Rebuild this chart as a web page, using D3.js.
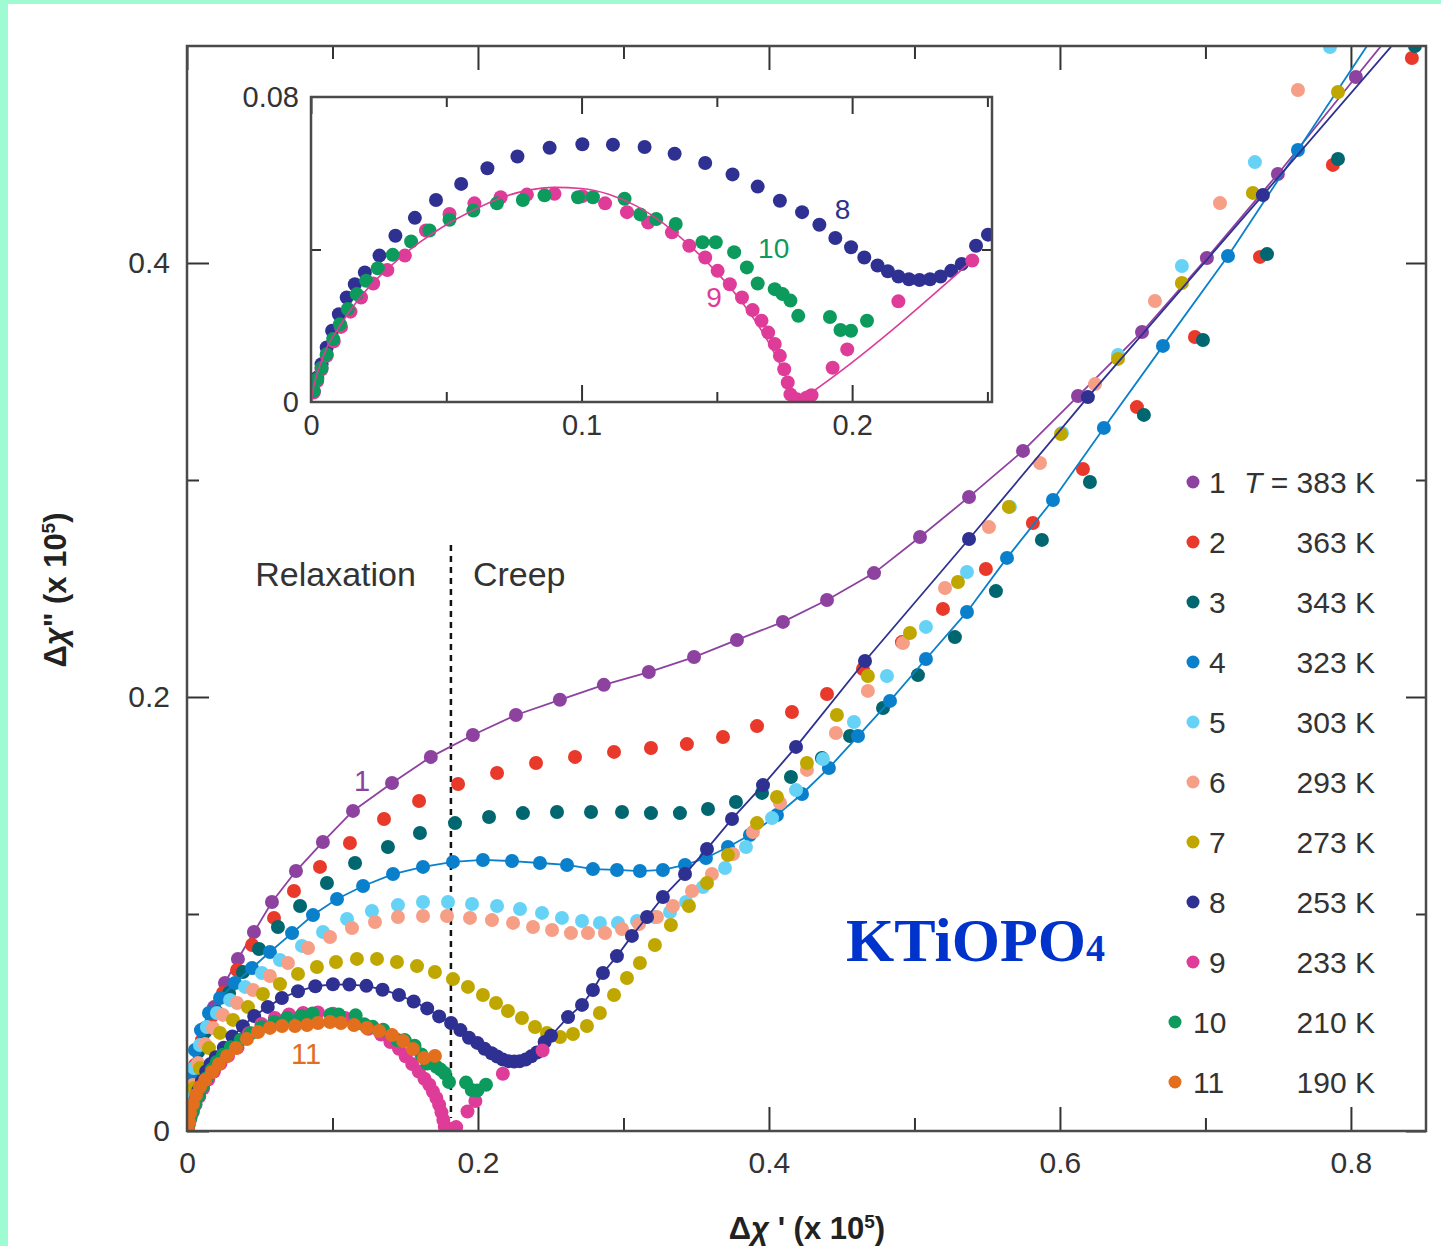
<!DOCTYPE html>
<html><head><meta charset="utf-8">
<script src="https://cdn.jsdelivr.net/npm/d3@7"></script>
<style>
html,body{margin:0;padding:0;background:#9ffbd2;}
svg{display:block;}
text{font-family:"Liberation Sans",Arial,sans-serif;}
</style></head><body>
<svg id="chart" width="1441" height="1246"></svg>
<script>
// ---------------- DATA ----------------
const s1 = [[0.0007,0.0014],[0.0014,0.0088],[0.0027,0.0175],[0.0048,0.0272],[0.0076,0.0373],[0.0124,0.0475],[0.0186,0.0571],[0.0261,0.0682],[0.0350,0.0793],[0.0460,0.0917],[0.0584,0.1055],[0.0749,0.1198],[0.0934,0.1332],[0.1141,0.1475],[0.1409,0.1604],[0.1676,0.1724],[0.1965,0.1825],[0.2261,0.1917],[0.2563,0.1987],[0.2865,0.2056],[0.3174,0.2115],[0.3485,0.2184],[0.3780,0.2263],[0.4096,0.2346],[0.4399,0.2447],[0.4722,0.2571],[0.5038,0.2737],[0.5375,0.2922],[0.5746,0.3134],[0.6124,0.3387],[0.6564,0.3682],[0.7010,0.4023],[0.7498,0.4410],[0.8034,0.4857],[0.857,0.530]];
const s2 = [[0.0007,0.0074],[0.0021,0.0180],[0.0055,0.0304],[0.0103,0.0419],[0.0172,0.0530],[0.0247,0.0636],[0.0344,0.0742],[0.0447,0.0857],[0.0598,0.0982],[0.0735,0.1106],[0.0914,0.1217],[0.1120,0.1327],[0.1354,0.1438],[0.1595,0.1521],[0.1863,0.1599],[0.2131,0.1650],[0.2399,0.1696],[0.2667,0.1724],[0.2935,0.1747],[0.3189,0.1765],[0.3436,0.1783],[0.3684,0.1816],[0.3918,0.1866],[0.4158,0.1931],[0.4399,0.2014],[0.4646,0.2129],[0.4914,0.2253],[0.5196,0.2406],[0.5491,0.2590],[0.5814,0.2802],[0.6158,0.3051],[0.6529,0.3336],[0.6928,0.3659],[0.7375,0.4028],[0.7876,0.4452],[0.8419,0.4945]];
const s3 = [[0.0007,0.0060],[0.0021,0.0152],[0.0041,0.0258],[0.0076,0.0364],[0.0124,0.0456],[0.0206,0.0548],[0.0289,0.0636],[0.0385,0.0733],[0.0495,0.0839],[0.0625,0.0940],[0.0777,0.1037],[0.0962,0.1143],[0.1155,0.1235],[0.1381,0.1309],[0.1601,0.1373],[0.1842,0.1419],[0.2076,0.1447],[0.2309,0.1465],[0.2543,0.1470],[0.2777,0.1470],[0.2990,0.1470],[0.3189,0.1465],[0.3388,0.1465],[0.3581,0.1484],[0.3773,0.1516],[0.3952,0.1558],[0.4151,0.1631],[0.4364,0.1719],[0.4557,0.1820],[0.4784,0.1949],[0.5024,0.2101],[0.5278,0.2276],[0.5560,0.2488],[0.5876,0.2724],[0.6206,0.2991],[0.6577,0.3300],[0.6983,0.3645],[0.7423,0.4041],[0.7911,0.4479],[0.8440,0.5000]];
const s4 = [[0.0007,0.0041],[0.0014,0.0143],[0.0027,0.0258],[0.0055,0.0373],[0.0096,0.0465],[0.0151,0.0544],[0.0227,0.0613],[0.0330,0.0682],[0.0447,0.0751],[0.0570,0.0825],[0.0722,0.0912],[0.0866,0.0995],[0.1031,0.1069],[0.1210,0.1129],[0.1416,0.1184],[0.1622,0.1217],[0.1828,0.1240],[0.2034,0.1249],[0.2234,0.1244],[0.2426,0.1235],[0.2612,0.1226],[0.2790,0.1207],[0.2955,0.1203],[0.3113,0.1198],[0.3271,0.1203],[0.3423,0.1226],[0.3567,0.1258],[0.3718,0.1309],[0.3869,0.1364],[0.4055,0.1456],[0.4227,0.1553],[0.4412,0.1673],[0.4612,0.1820],[0.4832,0.1982],[0.5079,0.2175],[0.5361,0.2392],[0.5636,0.2641],[0.5952,0.2908],[0.6302,0.3240],[0.6708,0.3618],[0.7155,0.4032],[0.7636,0.4521],[0.8612,0.5507]];
const s5 = [[0.0007,0.0051],[0.0021,0.0166],[0.0048,0.0290],[0.0089,0.0396],[0.0137,0.0479],[0.0206,0.0544],[0.0296,0.0604],[0.0399,0.0664],[0.0515,0.0728],[0.0639,0.0788],[0.0790,0.0853],[0.0935,0.0917],[0.1100,0.0977],[0.1271,0.1014],[0.1450,0.1041],[0.1622,0.1055],[0.1794,0.1055],[0.1959,0.1046],[0.2131,0.1037],[0.2289,0.1023],[0.2440,0.1005],[0.2577,0.0982],[0.2715,0.0968],[0.2838,0.0959],[0.2962,0.0959],[0.3093,0.0968],[0.3216,0.0986],[0.3320,0.1009],[0.3430,0.1055],[0.3546,0.1124],[0.3698,0.1212],[0.3842,0.1309],[0.4021,0.1442],[0.4186,0.1571],[0.4371,0.1714],[0.4584,0.1885],[0.4811,0.2097],[0.5079,0.2323],[0.5361,0.2576],[0.5656,0.2876],[0.6014,0.3217],[0.6399,0.3576],[0.6838,0.3986],[0.7340,0.4465],[0.7856,0.4995]];
const s6 = [[0.0007,0.0037],[0.0021,0.0120],[0.0041,0.0212],[0.0076,0.0313],[0.0124,0.0401],[0.0179,0.0475],[0.0247,0.0535],[0.0344,0.0590],[0.0454,0.0650],[0.0570,0.0714],[0.0694,0.0774],[0.0832,0.0843],[0.0983,0.0894],[0.1134,0.0935],[0.1292,0.0963],[0.1450,0.0986],[0.1622,0.0991],[0.1787,0.0991],[0.1945,0.0982],[0.2096,0.0972],[0.2241,0.0959],[0.2378,0.0940],[0.2509,0.0926],[0.2639,0.0912],[0.2756,0.0912],[0.2873,0.0912],[0.2990,0.0931],[0.3107,0.0954],[0.3230,0.0986],[0.3340,0.1037],[0.3471,0.1106],[0.3608,0.1184],[0.3753,0.1276],[0.3890,0.1378],[0.4076,0.1512],[0.4261,0.1664],[0.4460,0.1834],[0.4680,0.2028],[0.4921,0.2249],[0.5210,0.2502],[0.5512,0.2783],[0.5863,0.3078],[0.6241,0.3442],[0.6653,0.3825],[0.7100,0.4276],[0.7636,0.4797]];
const s7 = [[0.0007,0.0032],[0.0021,0.0106],[0.0048,0.0198],[0.0089,0.0290],[0.0151,0.0382],[0.0227,0.0452],[0.0316,0.0512],[0.0419,0.0571],[0.0522,0.0631],[0.0639,0.0677],[0.0763,0.0724],[0.0893,0.0756],[0.1024,0.0779],[0.1168,0.0793],[0.1306,0.0793],[0.1443,0.0779],[0.1581,0.0760],[0.1704,0.0733],[0.1828,0.0700],[0.1931,0.0664],[0.2034,0.0627],[0.2124,0.0590],[0.2206,0.0553],[0.2302,0.0521],[0.2392,0.0479],[0.2474,0.0452],[0.2564,0.0433],[0.2653,0.0447],[0.2749,0.0484],[0.2838,0.0544],[0.2935,0.0627],[0.3024,0.0705],[0.3113,0.0774],[0.3216,0.0857],[0.3326,0.0949],[0.3450,0.1037],[0.3574,0.1143],[0.3718,0.1272],[0.3918,0.1419],[0.4055,0.1539],[0.4261,0.1696],[0.4467,0.1917],[0.4680,0.2097],[0.4969,0.2295],[0.5299,0.2530],[0.5649,0.2876],[0.6007,0.3212],[0.6399,0.3558],[0.6838,0.3908],[0.7326,0.4323],[0.7911,0.4788]];
const s8 = [[0.0010,0.0029],[0.0023,0.0064],[0.0039,0.0099],[0.0058,0.0143],[0.0078,0.0187],[0.0103,0.0230],[0.0132,0.0274],[0.0162,0.0309],[0.0199,0.0340],[0.0253,0.0384],[0.0312,0.0436],[0.0384,0.0483],[0.0462,0.0530],[0.0555,0.0572],[0.0652,0.0613],[0.0763,0.0644],[0.0882,0.0667],[0.1003,0.0676],[0.1116,0.0675],[0.1233,0.0669],[0.1344,0.0651],[0.1457,0.0627],[0.1558,0.0597],[0.1651,0.0565],[0.1733,0.0528],[0.1815,0.0498],[0.1879,0.0465],[0.1938,0.0430],[0.1996,0.0406],[0.2045,0.0379],[0.2094,0.0358],[0.2132,0.0343],[0.2171,0.0329],[0.2210,0.0322],[0.2249,0.0320],[0.2288,0.0322],[0.2327,0.0329],[0.2366,0.0344],[0.2405,0.0362],[0.2458,0.0410],[0.2502,0.0439],[0.2619,0.0525],[0.2715,0.0581],[0.2790,0.0650],[0.2859,0.0728],[0.2955,0.0806],[0.3058,0.0899],[0.3162,0.0986],[0.3271,0.1078],[0.3423,0.1184],[0.3574,0.1300],[0.3746,0.1438],[0.3959,0.1594],[0.4186,0.1770],[0.4660,0.2166],[0.5375,0.2728],[0.6192,0.3382],[0.7395,0.4313],[0.8612,0.5258]];
const s9 = [[0.0010,0.0025],[0.0023,0.0055],[0.0039,0.0086],[0.0058,0.0121],[0.0084,0.0159],[0.0111,0.0197],[0.0146,0.0237],[0.0185,0.0274],[0.0230,0.0311],[0.0282,0.0346],[0.0347,0.0384],[0.0425,0.0450],[0.0512,0.0493],[0.0604,0.0521],[0.0701,0.0537],[0.0798,0.0544],[0.0900,0.0546],[0.1003,0.0540],[0.1087,0.0521],[0.1168,0.0498],[0.1246,0.0471],[0.1334,0.0445],[0.1398,0.0410],[0.1457,0.0379],[0.1503,0.0344],[0.1548,0.0309],[0.1593,0.0274],[0.1632,0.0241],[0.1665,0.0213],[0.1690,0.0182],[0.1714,0.0152],[0.1733,0.0121],[0.1749,0.0086],[0.1762,0.0051],[0.1772,0.0020],[0.1796,0.0007],[0.1831,0.0011],[0.1850,0.0018],[0.1928,0.0090],[0.1982,0.0138],[0.2171,0.0264],[0.2444,0.0371]];
const s10 = [[0.0010,0.0029],[0.0023,0.0060],[0.0039,0.0090],[0.0058,0.0125],[0.0082,0.0165],[0.0107,0.0204],[0.0136,0.0244],[0.0169,0.0283],[0.0204,0.0318],[0.0247,0.0351],[0.0302,0.0386],[0.0370,0.0421],[0.0438,0.0450],[0.0512,0.0478],[0.0600,0.0502],[0.0687,0.0521],[0.0783,0.0530],[0.0863,0.0542],[0.0987,0.0537],[0.1042,0.0537],[0.1159,0.0533],[0.1217,0.0492],[0.1276,0.0480],[0.1348,0.0467],[0.1447,0.0419],[0.1496,0.0419],[0.1564,0.0393],[0.1611,0.0353],[0.1651,0.0311],[0.1714,0.0296],[0.1743,0.0283],[0.1772,0.0266],[0.1801,0.0226],[0.1918,0.0223],[0.1957,0.0189],[0.1996,0.0187],[0.2055,0.0213]];
const s11 = [[0.0007,0.0005],[0.0014,0.0041],[0.0021,0.0083],[0.0041,0.0124],[0.0062,0.0166],[0.0089,0.0203],[0.0124,0.0235],[0.0172,0.0272],[0.0220,0.0309],[0.0275,0.0346],[0.0337,0.0382],[0.0412,0.0424],[0.0488,0.0456],[0.0570,0.0475],[0.0653,0.0484],[0.0742,0.0484],[0.0825,0.0488],[0.0900,0.0498],[0.0983,0.0502],[0.1058,0.0498],[0.1148,0.0488],[0.1237,0.0475],[0.1320,0.0461],[0.1409,0.0442],[0.1485,0.0415],[0.1553,0.0378],[0.1629,0.0336],[0.1704,0.0346]];
// fitted curve for curve 9 in the inset
const fit9 = [[0,0],[0.001,0.004],[0.003,0.009],[0.006,0.0145],[0.01,0.0192],[0.015,0.0245],[0.02,0.029],[0.03,0.036],[0.04,0.0418],[0.05,0.0465],[0.06,0.0503],[0.07,0.0535],[0.08,0.0555],[0.09,0.0563],[0.10,0.0560],[0.11,0.0545],[0.12,0.0515],[0.13,0.047],[0.14,0.041],[0.15,0.034],[0.16,0.0255],[0.168,0.017],[0.174,0.009],[0.178,0.003],[0.1815,0.0008],[0.185,0.0025],[0.2445,0.0372]];

const seriesData = [s1,s2,s3,s4,s5,s6,s7,s8,s9,s10,s11];
const seriesNames = ["1","2","3","4","5","6","7","8","9","10","11"];
const temperatures = ["383 K","363 K","343 K","323 K","303 K","293 K","273 K","253 K","233 K","210 K","190 K"];
const linedSeries = [0,3,7];           // curves drawn with a connecting line
const insetSeries = [7,8,9];           // curves 8, 9, 10 shown in the inset
const xTicksMain = [0,0.2,0.4,0.6,0.8], xMinorMain = [0.1,0.3,0.5,0.7];
const yTicksMain = [0,0.2,0.4], yMinorMain = [0.1,0.3];
const xTicksInset = [0,0.1,0.2], xMinorInset = [0.05,0.15,0.25];
const yTicksInset = [0,0.08], yMinorInset = [0.04];
const boundary = 0.1814;               // relaxation / creep divider

// ---------------- STYLE ----------------
const colors = ["#8e42a0","#e8392b","#00666f","#0a80cc","#66d3f6","#f69f86","#bfa700","#2e3192","#de3c98","#0c9b5c","#e36f1e"];
const R = 7;

const svg = d3.select("#chart");
svg.append("rect").attr("x",8).attr("y",4).attr("width",1433).attr("height",1242).attr("fill","#fff");

const x = d3.scaleLinear().domain([0,0.8516]).range([187,1426]);
const y = d3.scaleLinear().domain([0,0.5]).range([1131,46]);

const defs = svg.append("defs");
defs.append("clipPath").attr("id","clipMain").append("rect")
  .attr("x",187).attr("y",46).attr("width",1426-187).attr("height",1131-46);

const tickCol = "#333", frameCol = "#4a4a4a";
function styleAxis(g, fs){
  g.select(".domain").remove();
  g.selectAll(".tick line").attr("stroke",tickCol).attr("stroke-width",2);
  g.selectAll(".tick text").attr("fill","#333").style("font-size",fs+"px")
   .style("font-family","'Liberation Sans',Arial,sans-serif");
}
const fmt = d => d===0 ? "0" : String(d);

// main axes
const gAx = svg.append("g");
gAx.append("g").attr("transform","translate(0,1131)")
  .call(d3.axisBottom(x).tickValues(xTicksMain).tickSize(-24).tickPadding(21).tickFormat(fmt)).call(g=>styleAxis(g,30));
gAx.append("g").attr("transform","translate(0,1131)")
  .call(d3.axisBottom(x).tickValues(xMinorMain).tickSize(-13).tickFormat("")).call(g=>styleAxis(g,30));
gAx.append("g").attr("transform","translate(0,46)")
  .call(d3.axisTop(x).tickValues(xTicksMain).tickSize(-24).tickFormat("")).call(g=>styleAxis(g,30));
gAx.append("g").attr("transform","translate(0,46)")
  .call(d3.axisTop(x).tickValues(xMinorMain).tickSize(-13).tickFormat("")).call(g=>styleAxis(g,30));
gAx.append("g").attr("transform","translate(187,0)")
  .call(d3.axisLeft(y).tickValues(yTicksMain).tickSize(-22).tickPadding(17).tickFormat(fmt)).call(g=>styleAxis(g,30));
gAx.append("g").attr("transform","translate(187,0)")
  .call(d3.axisLeft(y).tickValues(yMinorMain).tickSize(-12).tickFormat("")).call(g=>styleAxis(g,30));
gAx.append("g").attr("transform","translate(1426,0)")
  .call(d3.axisRight(y).tickValues(yTicksMain).tickSize(-20).tickFormat("")).call(g=>styleAxis(g,30));
gAx.append("g").attr("transform","translate(1426,0)")
  .call(d3.axisRight(y).tickValues(yMinorMain).tickSize(-10).tickFormat("")).call(g=>styleAxis(g,30));

// divider + region labels
svg.append("line").attr("x1",x(boundary)).attr("x2",x(boundary)).attr("y1",y(0.270)).attr("y2",y(0.006))
  .attr("stroke","#111").attr("stroke-width",2.5).attr("stroke-dasharray","6,5");
svg.append("text").attr("x",x(boundary)-35).attr("y",y(0.2565)+12).attr("text-anchor","end")
  .attr("fill","#333").style("font-size","34px").text("Relaxation");
svg.append("text").attr("x",x(boundary)+22).attr("y",y(0.2565)+12)
  .attr("fill","#333").style("font-size","34px").text("Creep");

// main series
const plot = svg.append("g").attr("clip-path","url(#clipMain)");
const line = (sx,sy) => d3.line().x(d=>sx(d[0])).y(d=>sy(d[1]));
seriesData.forEach((data,i)=>{
  const g = plot.append("g");
  if (linedSeries.includes(i)) {
    g.append("path").datum(data).attr("d",line(x,y)).attr("fill","none")
      .attr("stroke",colors[i]).attr("stroke-width",1.8);
  }
  g.selectAll("circle").data(data).join("circle")
    .attr("cx",d=>x(d[0])).attr("cy",d=>y(d[1])).attr("r",R).attr("fill",colors[i]);
});

// frame
svg.append("rect").attr("x",187).attr("y",46).attr("width",1426-187).attr("height",1131-46)
  .attr("fill","none").attr("stroke",frameCol).attr("stroke-width",2.5);

// curve labels in main plot
svg.append("text").attr("x",x(0.1203)).attr("y",y(0.1618)+11).attr("text-anchor","middle")
  .attr("fill",colors[0]).style("font-size","29px").text("1");
svg.append("text").attr("x",x(0.0818)).attr("y",y(0.0359)+11).attr("text-anchor","middle")
  .attr("fill",colors[10]).style("font-size","29px").text("11");

// ---------------- INSET ----------------
const xi = d3.scaleLinear().domain([0,0.2517]).range([311,992]);
const yi = d3.scaleLinear().domain([0,0.08]).range([402,97]);
defs.append("clipPath").attr("id","clipInset").append("rect")
  .attr("x",311).attr("y",97).attr("width",992-311).attr("height",402-97);
svg.append("rect").attr("x",311).attr("y",97).attr("width",992-311).attr("height",402-97).attr("fill","#fff");

const gIn = svg.append("g");
gIn.append("g").attr("transform","translate(0,402)")
  .call(d3.axisBottom(xi).tickValues(xTicksInset).tickSize(-17).tickPadding(12).tickFormat(fmt)).call(g=>styleAxis(g,29));
gIn.append("g").attr("transform","translate(0,402)")
  .call(d3.axisBottom(xi).tickValues(xMinorInset).tickSize(-10).tickFormat("")).call(g=>styleAxis(g,29));
gIn.append("g").attr("transform","translate(0,97)")
  .call(d3.axisTop(xi).tickValues(xTicksInset).tickSize(-17).tickFormat("")).call(g=>styleAxis(g,29));
gIn.append("g").attr("transform","translate(0,97)")
  .call(d3.axisTop(xi).tickValues(xMinorInset).tickSize(-10).tickFormat("")).call(g=>styleAxis(g,29));
gIn.append("g").attr("transform","translate(311,0)")
  .call(d3.axisLeft(yi).tickValues(yTicksInset).tickSize(0).tickPadding(12).tickFormat(fmt)).call(g=>styleAxis(g,29));
gIn.append("g").attr("transform","translate(311,0)")
  .call(d3.axisLeft(yi).tickValues(yMinorInset).tickSize(-10).tickFormat("")).call(g=>styleAxis(g,29));
gIn.append("g").attr("transform","translate(992,0)")
  .call(d3.axisRight(yi).tickValues(yMinorInset).tickSize(-10).tickFormat("")).call(g=>styleAxis(g,29));

const inPlot = svg.append("g").attr("clip-path","url(#clipInset)");
insetSeries.forEach(i=>{
  inPlot.append("g").selectAll("circle").data(seriesData[i]).join("circle")
    .attr("cx",d=>xi(d[0])).attr("cy",d=>yi(d[1])).attr("r",R).attr("fill",colors[i]);
});
inPlot.append("path").datum(fit9).attr("d",line(xi,yi).curve(d3.curveMonotoneX)).attr("fill","none")
  .attr("stroke",colors[8]).attr("stroke-width",1.6);

svg.append("rect").attr("x",311).attr("y",97).attr("width",992-311).attr("height",402-97)
  .attr("fill","none").attr("stroke",frameCol).attr("stroke-width",2.5);

svg.append("text").attr("x",xi(0.1965)).attr("y",yi(0.0505)+10).attr("text-anchor","middle")
  .attr("fill",colors[7]).style("font-size","28px").text("8");
svg.append("text").attr("x",xi(0.1710)).attr("y",yi(0.0405)+10).attr("text-anchor","middle")
  .attr("fill",colors[9]).style("font-size","28px").text("10");
svg.append("text").attr("x",xi(0.1490)).attr("y",yi(0.0276)+10).attr("text-anchor","middle")
  .attr("fill",colors[8]).style("font-size","28px").text("9");

// ---------------- LEGEND ----------------
const leg = svg.append("g");
const legY = d3.scaleLinear().domain([0,10]).range([482,1082]);
seriesNames.forEach((n,i)=>{
  const yy = legY(i);
  const two = n.length>1;
  leg.append("circle").attr("cx",two?1175:1193).attr("cy",yy).attr("r",6.5).attr("fill",colors[i]);
  leg.append("text").attr("x",two?1193:1209).attr("y",yy+11).attr("fill","#333").style("font-size","30px").text(n);
  const t = leg.append("text").attr("x",1375).attr("y",yy+11).attr("text-anchor","end").attr("fill","#333").style("font-size","30px");
  if (i===0){
    t.append("tspan").style("font-style","italic").text("T");
    t.append("tspan").text(" = "+temperatures[i]);
  } else t.text(temperatures[i]);
});

// compound label
const kt = svg.append("text").attr("x",846).attr("y",961).attr("fill","#0033cc")
  .style("font-family","'Liberation Serif','Times New Roman',serif").style("font-weight","bold").style("font-size","62px");
kt.append("tspan").text("KTiOPO");
kt.append("tspan").style("font-size","38px").text("4");

// axis titles
const xt = svg.append("text").attr("x",807).attr("y",1239).attr("text-anchor","middle")
  .attr("fill","#222").style("font-weight","bold").style("font-size","31px");
xt.append("tspan").text("Δ");
xt.append("tspan").style("font-style","italic").text("χ");
xt.append("tspan").text(" ' (x 10");
xt.append("tspan").attr("dy",-11).style("font-size","19px").text("5");
xt.append("tspan").attr("dy",11).text(")");

const yt = svg.append("text").attr("transform","translate(66,590) rotate(-90)").attr("text-anchor","middle")
  .attr("fill","#222").style("font-weight","bold").style("font-size","31px");
yt.append("tspan").text("Δ");
yt.append("tspan").style("font-style","italic").text("χ");
yt.append("tspan").text("\" (x 10");
yt.append("tspan").attr("dy",-11).style("font-size","19px").text("5");
yt.append("tspan").attr("dy",11).text(")");
</script>
</body></html>
